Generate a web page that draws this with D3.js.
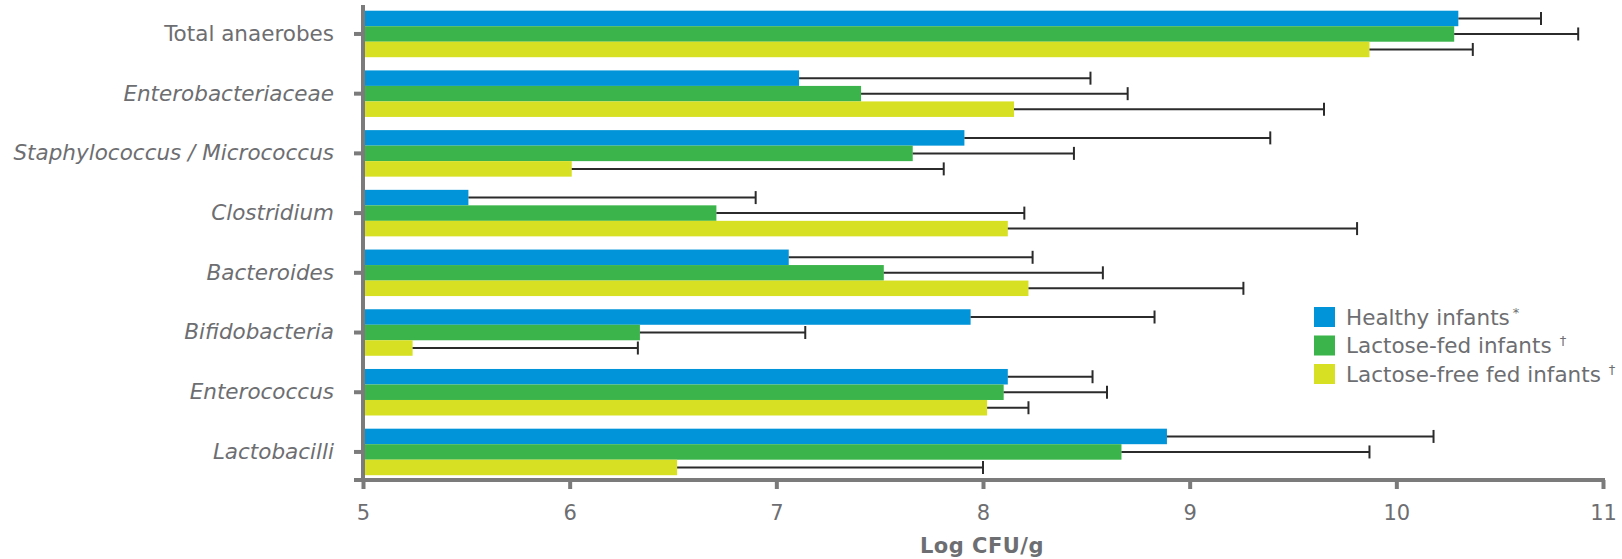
<!DOCTYPE html>
<html>
  <head>
    <meta charset="utf-8">
    <title>Faecal flora in infants</title>
    <script src="https://d3js.org/d3.v7.min.js"></script>
    <style>
      body { margin: 0; background: #fff; }
      text { font-family: "DejaVu Sans", Verdana, sans-serif; fill: #6d6e71; }
      .axis-line { stroke: #7b7b7b; stroke-width: 4px; fill: none; }
      .err { stroke: #2b2b2b; stroke-width: 2px; }
    </style>
  </head>
  <body>
    <script>

      var categories = ["Total anaerobes", "Enterobacteriaceae", "Staphylococcus / Micrococcus",
        "Clostridium", "Bacteroides", "Bifidobacteria", "Enterococcus", "Lactobacilli"];
      var italicCats = categories.slice(1); // genus names are set in italics

      var seriesNames = ["Healthy infants", "Lactose-fed infants", "Lactose-free fed infants"];
      var seriesMarks = ["*", "\u2020", "\u2020"];
      var seriesColors = ["#0194d8", "#3bb54b", "#d7e022"];

      var healthyMean = [10.30, 7.11, 7.91, 5.51, 7.06, 7.94, 8.12, 8.89];
      var healthySd   = [0.40, 1.41, 1.48, 1.39, 1.18, 0.89, 0.41, 1.29];
      var lactoseMean = [10.28, 7.41, 7.66, 6.71, 7.52, 6.34, 8.10, 8.67];
      var lactoseSd   = [0.60, 1.29, 0.78, 1.49, 1.06, 0.80, 0.50, 1.20];
      var freeMean    = [9.87, 8.15, 6.01, 8.12, 8.22, 5.24, 8.02, 6.52];
      var freeSd      = [0.50, 1.50, 1.80, 1.69, 1.04, 1.09, 0.20, 1.48];

      var xTicks = [5, 6, 7, 8, 9, 10, 11];
      var xTitle = "Log CFU/g";

      var outerWidth = 1622;
      var outerHeight = 559;
      var plotLeft = 363, plotRight = 1603;
      var plotTop = 4.1, plotBottom = 480;

      var means = [healthyMean, lactoseMean, freeMean];
      var sds = [healthySd, lactoseSd, freeSd];

      var rows = [];
      categories.forEach(function (c, i) {
        seriesNames.forEach(function (s, j) {
          rows.push({ cat: c, series: s, color: seriesColors[j], mean: means[j][i], sd: sds[j][i] });
        });
      });

      var svg = d3.select("body").append("svg")
        .attr("width", outerWidth)
        .attr("height", outerHeight);

      var xScale = d3.scaleLinear().domain([5, 11]).range([plotLeft, plotRight]);
      var yScale = d3.scaleBand().domain(categories)
        .range([plotTop, 481.8])
        .paddingInner(0.221)
        .paddingOuter(0.1105);
      var subScale = d3.scaleBand().domain(seriesNames).range([0, yScale.bandwidth()]);

      // bars
      svg.append("g").selectAll("rect").data(rows).enter().append("rect")
        .attr("x", xScale(5))
        .attr("y", function (d) { return yScale(d.cat) + subScale(d.series); })
        .attr("width", function (d) { return xScale(d.mean) - xScale(5); })
        .attr("height", subScale.bandwidth())
        .attr("fill", function (d) { return d.color; });

      // error bars (upper side only)
      var errs = svg.append("g").selectAll("g").data(rows).enter().append("g")
        .attr("transform", function (d) {
          return "translate(0," + (yScale(d.cat) + subScale(d.series) + subScale.bandwidth() / 2) + ")";
        });
      errs.append("line").attr("class", "err")
        .attr("x1", function (d) { return xScale(d.mean); })
        .attr("x2", function (d) { return xScale(d.mean + d.sd); });
      errs.append("line").attr("class", "err")
        .attr("x1", function (d) { return xScale(d.mean + d.sd); })
        .attr("x2", function (d) { return xScale(d.mean + d.sd); })
        .attr("y1", -6.5).attr("y2", 6.5);

      // y axis
      var yAxis = d3.axisLeft(yScale).tickSize(9).tickPadding(20);
      var gy = svg.append("g").attr("transform", "translate(" + plotLeft + ",0)").call(yAxis);
      gy.select(".domain").remove();
      gy.selectAll(".tick line").attr("class", "axis-line");
      gy.selectAll(".tick text")
        .style("font-size", "21.5px")
        .style("font-family", "'DejaVu Sans', Verdana, sans-serif")
        .style("font-style", function (d) { return italicCats.indexOf(d) >= 0 ? "italic" : "normal"; })
        .attr("fill", "#6d6e71");
      svg.append("line").attr("class", "axis-line")
        .attr("x1", plotLeft).attr("x2", plotLeft).attr("y1", 5).attr("y2", plotBottom);

      // x axis
      var xAxis = d3.axisBottom(xScale).tickValues(xTicks).tickSize(9).tickPadding(16)
        .tickFormat(d3.format("d"));
      var gx = svg.append("g").attr("transform", "translate(0," + plotBottom + ")").call(xAxis);
      gx.select(".domain").remove();
      gx.selectAll(".tick line").attr("class", "axis-line");
      gx.selectAll(".tick text")
        .style("font-size", "21px")
        .style("font-family", "'DejaVu Sans', Verdana, sans-serif")
        .attr("fill", "#6d6e71");
      svg.append("line").attr("class", "axis-line")
        .attr("x1", plotLeft - 9).attr("x2", plotRight + 2).attr("y1", plotBottom).attr("y2", plotBottom);

      svg.append("text")
        .attr("x", 982).attr("y", 553)
        .attr("text-anchor", "middle")
        .style("font-size", "21px")
        .style("font-weight", "bold")
        .style("letter-spacing", "0.5px")
        .text(xTitle);

      // legend
      var legend = svg.append("g").attr("transform", "translate(1314,307)");
      var items = legend.selectAll("g").data(seriesNames).enter().append("g")
        .attr("transform", function (d, i) { return "translate(0," + (i * 28.5) + ")"; });
      items.append("rect")
        .attr("width", 21).attr("height", 20)
        .attr("fill", function (d, i) { return seriesColors[i]; });
      var lt = items.append("text")
        .attr("x", 32).attr("y", 17.5)
        .style("font-size", "21.5px");
      lt.append("tspan").text(function (d) { return d; });
      lt.append("tspan")
        .attr("dx", function (d, i) { return i == 0 ? 3 : 8; })
        .attr("dy", -8)
        .style("font-size", "13px")
        .text(function (d, i) { return seriesMarks[i]; });

    </script>
  </body>
</html>
